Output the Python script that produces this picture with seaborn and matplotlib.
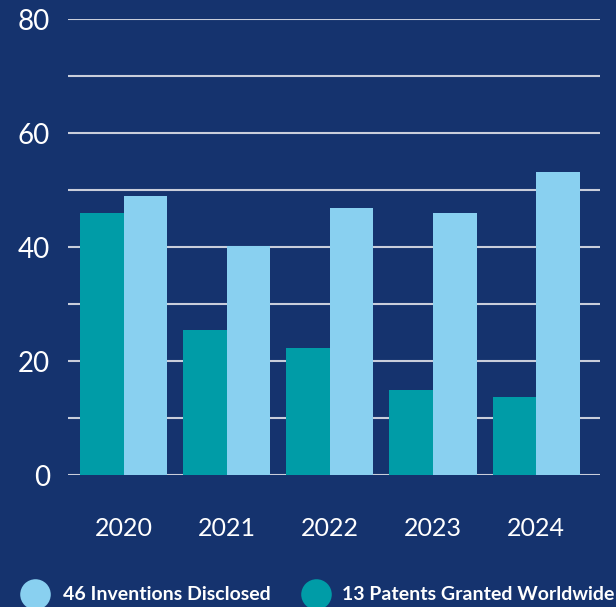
import matplotlib
matplotlib.use("Agg")
import matplotlib.pyplot as plt
from matplotlib.lines import Line2D
import pandas as pd
import seaborn as sns

# data
years = ["2020", "2021", "2022", "2023", "2024"]
patents = [46, 25.5, 22.3, 15, 13.7]
inventions = [49, 40.2, 46.8, 46, 53.2]

series_names = ["13 Patents Granted Worldwide", "46 Inventions Disclosed"]
legend_order = ["46 Inventions Disclosed", "13 Patents Granted Worldwide"]

BG = "#15336e"
TEAL = "#009ca7"
LIGHT = "#89d0f0"
GRID = "#c9cedb"

colors = {
    "13 Patents Granted Worldwide": TEAL,
    "46 Inventions Disclosed": LIGHT,
}

df = pd.DataFrame({
    "year": years * 2,
    "value": patents + inventions,
    "series": [series_names[0]] * len(years) + [series_names[1]] * len(years),
})

sns.set_style("white")
plt.rcParams["font.family"] = ["Lato", "DejaVu Sans"]

fig = plt.figure(figsize=(6.16, 6.07), dpi=100, facecolor=BG)
ax = fig.add_axes([68 / 616, 1 - 475 / 607, 532 / 616, 456 / 607])
ax.set_facecolor(BG)

# grid every 10, labels every 20
ax.set_ylim(0, 80)
ax.set_yticks([0, 20, 40, 60, 80])
ax.set_yticks([10, 30, 50, 70], minor=True)
ax.grid(axis="y", which="both", color=GRID, linewidth=1.5, zorder=0)
ax.set_axisbelow(True)

sns.barplot(
    data=df,
    x="year",
    y="value",
    hue="series",
    hue_order=series_names,
    palette=colors,
    saturation=1,
    width=0.845,
    linewidth=0,
    edgecolor="none",
    ax=ax,
    legend=False,
    zorder=3,
)

ax.set_xlim(-0.54, 4.62)
ax.set_ylim(0, 80)
ax.set_xlabel("")
ax.set_ylabel("")
for s in ax.spines.values():
    s.set_visible(False)
ax.tick_params(axis="both", which="both", length=0, colors="white")
ax.tick_params(axis="y", labelsize=20, pad=13)
ax.tick_params(axis="x", labelsize=18, pad=30)

# legend drawn by hand with round swatches
legend_x = [(34.5 / 616, 63 / 616), (316 / 616, 342 / 616)]
legend_y = 1 - 594 / 607
for name, (cx, tx) in zip(legend_order, legend_x):
    fig.add_artist(Line2D(
        [cx], [legend_y],
        marker="o",
        markersize=22,
        markerfacecolor=colors[name],
        markeredgewidth=0,
        linestyle="none",
        transform=fig.transFigure,
    ))
    fig.text(
        tx, legend_y, name,
        color="white",
        fontsize=14,
        fontweight="bold",
        va="center",
        ha="left",
    )

fig.savefig("out.png", dpi=100, facecolor=BG)
